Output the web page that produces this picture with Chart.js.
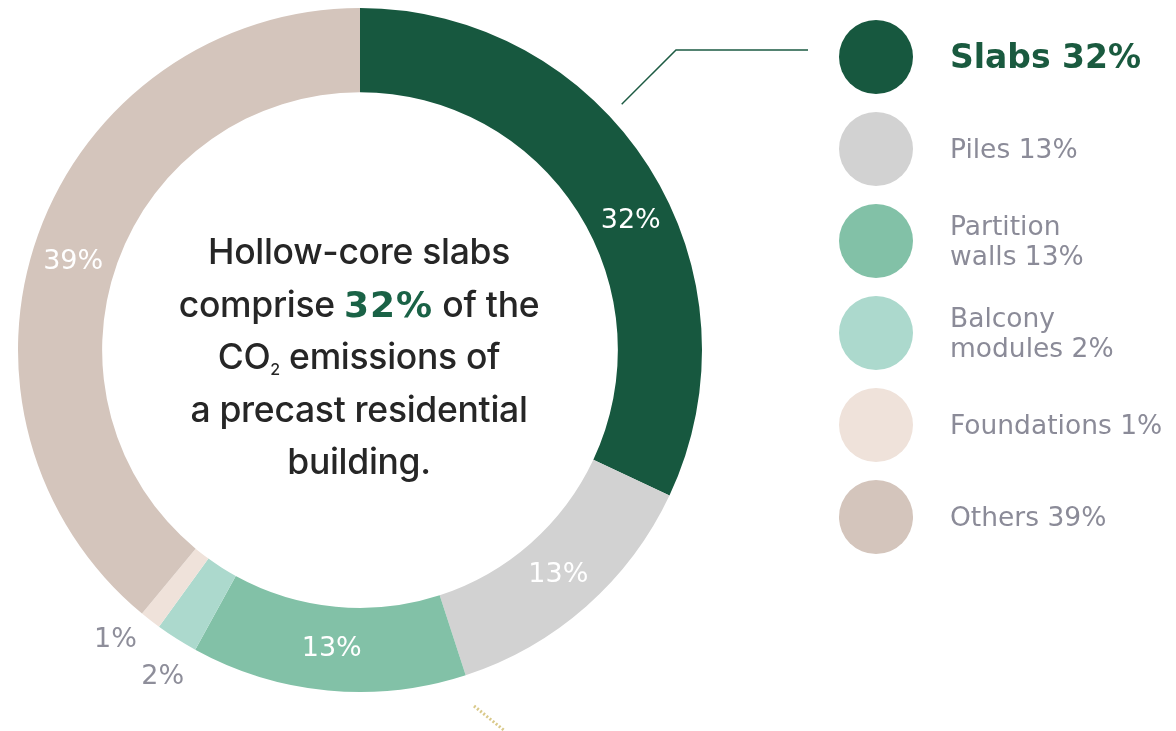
<!DOCTYPE html>
<html>
<head>
<meta charset="utf-8">
<script src="https://cdn.jsdelivr.net/npm/chart.js@4"></script>
<style>
  html, body { margin:0; padding:0; background:#ffffff; }
  #wrap { position:relative; width:1176px; height:731px; overflow:hidden; }
  #chart { position:absolute; left:0; top:0; }
  #center { position:absolute; left:0; top:226px; width:718px; text-align:center;
    font-family:Inter, "Liberation Sans", sans-serif; font-weight:500; font-size:35.5px; line-height:52.5px; color:#262626; letter-spacing:-0.3px; }
  #center .hl { font-family:"DejaVu Sans", sans-serif; font-weight:bold; color:#1a6246; font-size:36px; letter-spacing:1px; }
  #center sub { font-size:16px; vertical-align:-6px; line-height:0; }
  #legend { position:absolute; left:839px; top:11px; }
  .row { height:92px; display:flex; align-items:center; }
  .dot { width:74px; height:74px; border-radius:50%; flex:none; }
  .lbl { margin-left:37px; font-family:"DejaVu Sans", sans-serif; font-size:26.5px; line-height:30px; color:#8b8b98; }
  .lbl.main { font-weight:bold; color:#1a5a3f; font-size:33px; }
</style>
</head>
<body>
<div id="wrap">
  <canvas id="chart" width="1176" height="731"></canvas>
  <div id="center">Hollow-core slabs<br>comprise <span class="hl">32%</span> of the<br>CO<sub>2</sub> emissions of<br>a precast residential<br>building.</div>
  <div id="legend"></div>
</div>
<script>
const categories = ["Slabs", "Piles", "Partition walls", "Balcony modules", "Foundations", "Others"];
const legendLines = [["Slabs 32%"], ["Piles 13%"], ["Partition", "walls 13%"], ["Balcony", "modules 2%"], ["Foundations 1%"], ["Others 39%"]];
const values = [32, 13, 13, 2, 1, 39];
const colors = ["#17583f", "#d2d2d2", "#82c1a7", "#acd9cd", "#efe2da", "#d4c5bc"];

// HTML legend built from arrays
const legend = document.getElementById('legend');
categories.forEach((c, i) => {
  const row = document.createElement('div'); row.className = 'row';
  const dot = document.createElement('div'); dot.className = 'dot'; dot.style.background = colors[i];
  const lbl = document.createElement('div'); lbl.className = 'lbl' + (i === 0 ? ' main' : '');
  lbl.innerHTML = legendLines[i].join('<br>');
  row.appendChild(dot); row.appendChild(lbl); legend.appendChild(row);
});

const labelPlugin = {
  id: 'sliceLabels',
  afterDatasetsDraw(chart, args, opts) {
    const ctx = chart.ctx;
    const meta = chart.getDatasetMeta(0);
    ctx.save();
    ctx.textAlign = 'center';
    ctx.textBaseline = 'middle';
    meta.data.forEach((arc, i) => {
      const p = arc.getProps(['x','y','startAngle','endAngle','innerRadius','outerRadius'], true);
      const frac = (opts.fractions && opts.fractions[i] != null) ? opts.fractions[i] : 0.5;
      const ang = p.startAngle + (p.endAngle - p.startAngle) * frac;
      const txt = values[i] + '%';
      ctx.font = '27px "DejaVu Sans", sans-serif';
      if (opts.outside.includes(i)) {
        const off = opts.outsideOffsets[i];
        const x = p.x + Math.cos(ang) * p.outerRadius + off[0];
        const y = p.y + Math.sin(ang) * p.outerRadius + off[1];
        ctx.fillStyle = '#8e8e9a';
        ctx.fillText(txt, x, y);
      } else {
        const r = (p.innerRadius + p.outerRadius) / 2;
        ctx.fillStyle = '#ffffff';
        ctx.fillText(txt, p.x + Math.cos(ang) * r, p.y + Math.sin(ang) * r);
      }
    });
    // leader line from slabs slice toward legend
    const a0 = meta.data[0].getProps(['x','y','outerRadius'], true);
    ctx.strokeStyle = '#1d5b43';
    ctx.lineWidth = 1.5;
    ctx.beginPath();
    const la = -Math.PI/2 + 0.13 * Math.PI * 2;
    ctx.moveTo(a0.x + Math.cos(la) * (a0.outerRadius + 17), a0.y + Math.sin(la) * (a0.outerRadius + 17));
    ctx.lineTo(676, 50);
    ctx.lineTo(808, 50);
    ctx.stroke();
    // small decorative stroke at bottom
    ctx.strokeStyle = '#d9c98a';
    ctx.lineWidth = 3;
    ctx.setLineDash([2, 2]);
    ctx.beginPath();
    ctx.moveTo(474, 706);
    ctx.lineTo(505, 731);
    ctx.stroke();
    ctx.restore();
  }
};

new Chart(document.getElementById('chart'), {
  type: 'doughnut',
  data: {
    labels: categories,
    datasets: [{ data: values, backgroundColor: colors, borderWidth: 0, hoverOffset: 0 }]
  },
  options: {
    responsive: false,
    animation: false,
    cutout: '75.4%',
    layout: { padding: { left: 8, right: 464, top: 8, bottom: 39 } },
    plugins: {
      legend: { display: false },
      tooltip: { enabled: false },
      sliceLabels: {
        fractions: [0.56, 0.5, 0.5, 0.5, 0.5, 0.48],
        outside: [3, 4],
        outsideOffsets: { 3: [-14, 38], 4: [-35, 20] }
      }
    }
  },
  plugins: [labelPlugin]
});
</script>
</body>
</html>
